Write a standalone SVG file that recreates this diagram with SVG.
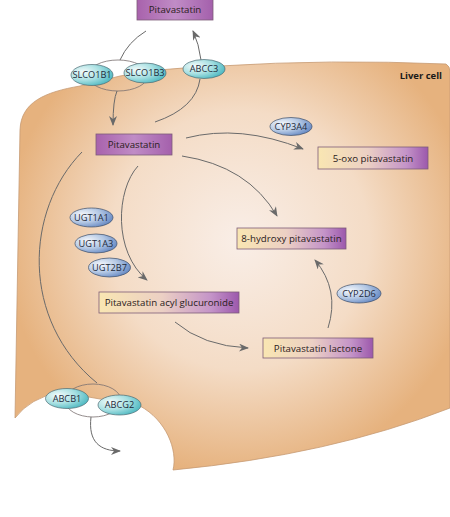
<svg xmlns="http://www.w3.org/2000/svg" width="450" height="517" viewBox="0 0 450 517">
<defs>
<radialGradient id="cellG" cx="240" cy="240" r="235" gradientUnits="userSpaceOnUse">
<stop offset="0" stop-color="#f9eee7"/>
<stop offset="0.55" stop-color="#f4dcc6"/>
<stop offset="1" stop-color="#e6b27e"/>
</radialGradient>
<linearGradient id="purpG" x1="0" y1="0" x2="1" y2="0">
<stop offset="0" stop-color="#a862ac"/>
<stop offset="0.5" stop-color="#c08cc6"/>
<stop offset="1" stop-color="#a460ac"/>
</linearGradient>
<linearGradient id="prodG" x1="0" y1="0" x2="1" y2="0">
<stop offset="0" stop-color="#f9e6b2"/>
<stop offset="0.45" stop-color="#ecd0c4"/>
<stop offset="0.8" stop-color="#c494c8"/>
<stop offset="1" stop-color="#9c58ac"/>
</linearGradient>
<radialGradient id="cyanG" cx="0.3" cy="0.35" r="0.8">
<stop offset="0" stop-color="#f4fbfb"/>
<stop offset="0.5" stop-color="#a8e0e2"/>
<stop offset="1" stop-color="#3fb2bc"/>
</radialGradient>
<radialGradient id="blueG" cx="0.3" cy="0.35" r="0.8">
<stop offset="0" stop-color="#f6f8fc"/>
<stop offset="0.5" stop-color="#b4c8e4"/>
<stop offset="1" stop-color="#5a7fbe"/>
</radialGradient>
<marker id="arr" viewBox="0 0 10 8" refX="9" refY="4" markerWidth="10" markerHeight="8" markerUnits="userSpaceOnUse" orient="auto">
<path d="M0,0 L10,4 L0,8 L3,4 z" fill="#6a6a6a"/>
</marker>
</defs>
<style>
.lbl{font-family:"Open Sans","Liberation Sans",sans-serif;font-size:9.7px;fill:#2a2020;text-anchor:middle}
.enz{font-family:"Open Sans","Liberation Sans",sans-serif;font-size:9.2px;fill:#1e2a3a;text-anchor:middle}
.box{stroke:#7e5c78;stroke-width:0.8}
.purp{fill:url(#purpG)}
.prod{fill:url(#prodG)}
.cy{fill:url(#cyanG);stroke:#4c6a72;stroke-width:0.7}
.bl{fill:url(#blueG);stroke:#3e4e66;stroke-width:0.7}
.lens{fill:none;stroke:#7a7070;stroke-width:0.8}
.con{fill:none;stroke:#6a6a6a;stroke-width:1}
</style>
<rect width="450" height="517" fill="#ffffff"/>
<g id="cell">
<path d="M20,130 C21,102 45,92 80,86 L120,76 Q160,68 220,66 Q330,59 446,64 Q450,66 450,72 L450,408 Q330,455 173,470 C178,450 166,420 140,406 L60,392 Q30,398 15,418 Z" fill="url(#cellG)" stroke="#c79a74" stroke-width="0.8"/>
<text x="442" y="79" font-family="'Open Sans','Liberation Sans',sans-serif" font-size="9.5" font-weight="bold" fill="#1a1a1a" text-anchor="end">Liver cell</text>
</g>
<g id="lenses">
<ellipse class="lens" cx="118" cy="75.5" rx="30" ry="15.5"/>
<ellipse class="lens" cx="93" cy="400.5" rx="28" ry="16.5"/>
</g>
<g id="connectors">
<path class="con" d="M146,31 Q128,42 120,60"/>
<path class="con" d="M117,91 Q113,100 113,125" marker-end="url(#arr)"/>
<path class="con" d="M155,122 Q196,108 200,79"/>
<path class="con" d="M201,60 Q199,44 193,31" marker-end="url(#arr)"/>
<path class="con" d="M186,138 Q240,124 303,149" marker-end="url(#arr)"/>
<path class="con" d="M182,156 Q248,166 277,216" marker-end="url(#arr)"/>
<path class="con" d="M138,166 C116,190 113,252 147,280" marker-end="url(#arr)"/>
<path class="con" d="M175,322 Q203,346 248,348" marker-end="url(#arr)"/>
<path class="con" d="M328,328 Q340,290 315,260" marker-end="url(#arr)"/>
<path class="con" d="M82,152 C25,210 20,320 97,383"/>
<path class="con" d="M91,417 C88,442 100,451 120,451" marker-end="url(#arr)"/>
</g>
<g id="pita_out"><rect class="box purp" x="137" y="-2" width="76" height="22"/><text class="lbl" x="175" y="13">Pitavastatin</text></g>
<g id="slco1b1"><ellipse class="cy" cx="92" cy="75" rx="21" ry="10.5"/><text class="enz" x="92" y="78.2">SLCO1B1</text></g>
<g id="slco1b3"><ellipse class="cy" cx="145" cy="73" rx="21" ry="10"/><text class="enz" x="145" y="76.2">SLCO1B3</text></g>
<g id="abcc3"><ellipse class="cy" cx="204" cy="69" rx="21" ry="9.5"/><text class="enz" x="204" y="72.2">ABCC3</text></g>
<g id="pita_in"><rect class="box purp" x="96" y="134" width="76" height="21"/><text class="lbl" x="134" y="148">Pitavastatin</text></g>
<g id="cyp3a4"><ellipse class="bl" cx="291" cy="126.5" rx="21" ry="9"/><text class="enz" x="291" y="129.7">CYP3A4</text></g>
<g id="oxo"><rect class="box prod" x="318" y="147" width="110" height="22"/><text class="lbl" x="373" y="161.5">5-oxo pitavastatin</text></g>
<g id="hydroxy"><rect class="box prod" x="237" y="228" width="109" height="21"/><text class="lbl" x="291.5" y="242">8-hydroxy pitavastatin</text></g>
<g id="ugt1a1"><ellipse class="bl" cx="91.5" cy="217.5" rx="21.5" ry="9.5"/><text class="enz" x="91.5" y="220.7">UGT1A1</text></g>
<g id="ugt1a3"><ellipse class="bl" cx="96" cy="243.5" rx="21" ry="9.5"/><text class="enz" x="96" y="246.7">UGT1A3</text></g>
<g id="ugt2b7"><ellipse class="bl" cx="109.5" cy="267.5" rx="21" ry="9.5"/><text class="enz" x="109.5" y="270.7">UGT2B7</text></g>
<g id="glucuronide"><rect class="box prod" x="99" y="292" width="140" height="21"/><text class="lbl" x="169" y="306">Pitavastatin acyl glucuronide</text></g>
<g id="cyp2d6"><ellipse class="bl" cx="359" cy="293.5" rx="22" ry="9.5"/><text class="enz" x="359" y="296.7">CYP2D6</text></g>
<g id="lactone"><rect class="box prod" x="263" y="338" width="110" height="20"/><text class="lbl" x="318" y="351.5">Pitavastatin lactone</text></g>
<g id="abcb1"><ellipse class="cy" cx="67" cy="398.5" rx="21.5" ry="10"/><text class="enz" x="67" y="401.7">ABCB1</text></g>
<g id="abcg2"><ellipse class="cy" cx="119.5" cy="405" rx="21.5" ry="10"/><text class="enz" x="119.5" y="408.2">ABCG2</text></g>
</svg>
